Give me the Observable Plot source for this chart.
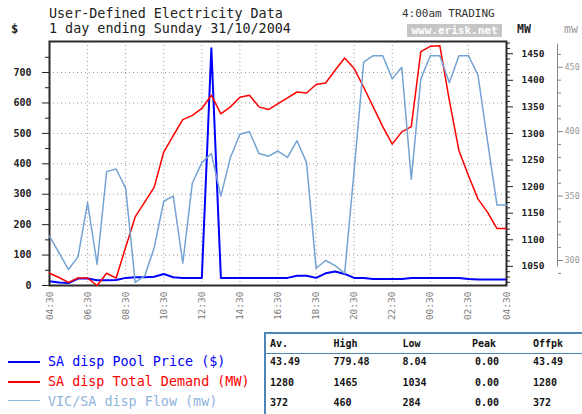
<!DOCTYPE html>
<html>
<head>
<meta charset="utf-8">
<script src="https://cdn.jsdelivr.net/npm/d3@7"></script>
<script src="https://cdn.jsdelivr.net/npm/@observablehq/plot@0.6"></script>
<style>
  html, body { margin: 0; padding: 0; background: #fff; }
  #wrap { position: relative; width: 582px; height: 414px; overflow: hidden; background: #fff; font-family: "DejaVu Sans Mono", monospace; }
  #wrap svg { position: absolute; left: 0; top: 0; }
  .t { position: absolute; white-space: pre; line-height: 1; }
  .lg { position: absolute; height: 0; border-top: 2px solid; }
</style>
</head>
<body>
<div id="wrap"></div>
<script>
// ---------- data ----------
const times = ["04:30","05:00","05:30","06:00","06:30","07:00","07:30","08:00","08:30","09:00","09:30","10:00",
  "10:30","11:00","11:30","12:00","12:30","13:00","13:30","14:00","14:30","15:00","15:30","16:00",
  "16:30","17:00","17:30","18:00","18:30","19:00","19:30","20:00","20:30","21:00","21:30","22:00",
  "22:30","23:00","23:30","00:00","00:30","01:00","01:30","02:00","02:30","03:00","03:30","04:00","04:30"];
const poolPrice = [14, 10, 8, 23, 23, 17, 17, 18, 25, 27, 27, 29,
  38, 27, 25, 25, 25, 779.48, 25, 25, 25, 25, 25, 25,
  25, 25, 32, 32, 25, 40, 46, 38, 25, 25, 21, 21,
  21, 21, 25, 25, 25, 25, 25, 25, 21, 20, 20, 20, 20];
const totalDemand = [1037, 1029, 1020, 1028, 1028, 1014, 1037, 1028, 1086, 1143, 1171, 1199,
  1265, 1296, 1326, 1334, 1347, 1372, 1337, 1350, 1368, 1372, 1350, 1345,
  1356, 1367, 1378, 1376, 1392, 1395, 1419, 1442, 1422, 1387, 1350, 1313,
  1280, 1303, 1313, 1454, 1464, 1465, 1362, 1268, 1221, 1177, 1152, 1121, 1121];
const flow = [319, 306, 293, 303, 345, 297, 369, 371, 356, 283, 288, 310,
  346, 350, 298, 360, 376, 383, 350, 380, 398, 400, 383, 381,
  385, 380, 393, 376, 294, 300, 296, 290, 370, 454, 459, 459,
  441, 450, 363, 441, 459, 459, 438, 459, 459, 444, 393, 343, 343];
const xTickLabels = ["04:30","06:30","08:30","10:30","12:30","14:30","16:30","18:30","20:30","22:30","00:30","02:30","04:30"];
const priceTicks = [0, 100, 200, 300, 400, 500, 600, 700];
const priceMinorTicks = [50, 150, 250, 350, 450, 550, 650, 750];
const mwTicks = [1050, 1100, 1150, 1200, 1250, 1300, 1350, 1400, 1450];
const flowTicks = [300, 350, 400, 450];
const statHeaders = ["Av.", "High", "Low", "Peak", "Offpk"];
const statRows = [
  ["43.49", "779.48", "8.04", "0.00", "43.49"],
  ["1280", "1465", "1034", "0.00", "1280"],
  ["372", "460", "284", "0.00", "372"]
];
const seriesNames = ["SA disp Pool Price ($)", "SA disp Total Demand (MW)", "VIC/SA disp Flow (mw)"];

// ---------- helpers ----------
const day0 = Date.UTC(2004, 9, 30);
function toDate(label, i) {
  const [h, m] = label.split(":").map(Number);
  let t = day0 + (h * 60 + m) * 60000;
  if (i > 0 && (h < 4 || (h === 4 && m <= 30))) t += 86400000;
  return new Date(t);
}
const dates = times.map((t, i) => toDate(t, i));
const tickDates = xTickLabels.map((t, i) => toDate(t, i));
const rows = dates.map((d, i) => ({date: d, price: poolPrice[i], demand: totalDemand[i], flow: flow[i]}));
const xDomain = [dates[0], dates[dates.length - 1]];
const range = (a, b, s) => d3.range(a, b + 0.001, s);
const mwMinor = range(1020, 1470, 10).filter(v => v % 50 !== 0);
const flowMinor = range(290, 460, 10).filter(v => v % 50 !== 0);
const plain = d => String(d);

const W = 582, H = 330;
const base = {width: W, height: H, marginTop: 41, marginRight: 76, marginBottom: 45, marginLeft: 49,
  style: {background: "transparent", fontFamily: "DejaVu Sans Mono", overflow: "visible"}};

const p1 = Plot.plot({
  ...base,
  x: {type: "utc", domain: xDomain},
  y: {domain: [0, 802]},
  marks: [
    Plot.gridX(tickDates, {stroke: "#9a9a9a", strokeOpacity: 1, strokeDasharray: "1,3"}),
    Plot.gridY(priceTicks.filter(v => v > 0), {stroke: "#9a9a9a", strokeOpacity: 1, strokeDasharray: "1,3"}),
    Plot.axisX(tickDates, {tickRotate: -90, tickSize: 0, tickPadding: 6, tickFormat: d3.utcFormat("%H:%M"),
      fill: "#7a7a7a", fontSize: 9.5, label: null}),
    Plot.axisY(priceTicks, {anchor: "left", tickSize: 7, tickPadding: 11, fontSize: 10, fontWeight: "bold",
      fill: "#222", stroke: "#222", tickFormat: plain, label: null}),
    Plot.axisY(priceMinorTicks, {anchor: "left", tickSize: 4, tickFormat: () => "", stroke: "#222", label: null}),
    Plot.line(rows, {x: "date", y: "price", stroke: "#0000ff", strokeWidth: 2}),
    Plot.frame({stroke: "#2a2a2a", strokeWidth: 2})
  ]
});

const p2 = Plot.plot({
  ...base,
  x: {type: "utc", domain: xDomain, axis: null},
  y: {domain: [1014, 1473]},
  marks: [
    Plot.axisY(mwTicks, {anchor: "right", tickSize: 6, tickPadding: 9, fontSize: 9.5, fontWeight: "bold",
      fill: "#222", stroke: "#222", tickFormat: plain, label: null}),
    Plot.axisY(mwMinor, {anchor: "right", tickSize: 3, tickFormat: () => "", stroke: "#222", label: null}),
    Plot.line(rows, {x: "date", y: "demand", stroke: "#ff0000", strokeWidth: 1.5})
  ]
});

const p3 = Plot.plot({
  ...base,
  marginRight: 25,
  x: {type: "utc", domain: xDomain, range: [49, 506], axis: null},
  y: {domain: [280.6, 470]},
  marks: [
    Plot.ruleX([xDomain[1]], {y1: () => 295, y2: () => 468, dx: 51, stroke: "#888", strokeWidth: 1}),
    Plot.axisY(flowTicks, {anchor: "right", tickSize: 5, tickPadding: 2, fontSize: 8.5,
      fill: "#999", stroke: "#888", tickFormat: plain, label: null}),
    Plot.axisY(flowMinor, {anchor: "right", tickSize: 3, tickFormat: () => "", stroke: "#888", label: null}),
    Plot.line(rows, {x: "date", y: "flow", stroke: "#74a3d4", strokeWidth: 1.5})
  ]
});

const wrap = document.getElementById("wrap");
[p1, p2, p3].forEach(p => wrap.appendChild(p));

function text(str, x, top, size, opts = {}) {
  const d = document.createElement("div");
  d.className = "t";
  d.textContent = str;
  d.style.left = x + "px";
  d.style.top = top + "px";
  d.style.fontSize = size + "px";
  Object.assign(d.style, opts);
  wrap.appendChild(d);
  return d;
}
// titles
text("User-Defined Electricity Data", 49, 6.5, 13.4, {color: "#222"});
text("1 day ending Sunday 31/10/2004", 49, 21.5, 13.4, {color: "#222"});
text("$", 11, 22.5, 12, {color: "#222", fontWeight: "bold"});
text("4:00am TRADING", 402, 8.2, 11, {color: "#333"});
text("www.erisk.net", 407, 24, 11, {color: "#fff", background: "#c6c6c6", width: "95px", height: "13px",
  lineHeight: "13px", textAlign: "center", fontWeight: "bold"});
text("MW", 517, 23.5, 11.5, {color: "#222", fontWeight: "bold"});
text("mw", 564, 23.5, 11.5, {color: "#999"});

// legend
const legColors = ["#0000ff", "#ff0000", "#8fb4dc"];
const legY = [361.5, 381.5, 401];
seriesNames.forEach((name, i) => {
  const l = document.createElement("div");
  l.className = "lg";
  l.style.left = "8px"; l.style.width = "32px";
  l.style.top = (legY[i] - 1) + "px";
  l.style.borderColor = legColors[i];
  if (i === 2) l.style.borderTopWidth = "1.5px";
  wrap.appendChild(l);
  text(name, 48, legY[i] - 6.5, 13.4, {color: legColors[i]});
});

// stats table
const tbl = document.createElement("div");
Object.assign(tbl.style, {position: "absolute", left: "264px", top: "332px", width: "330px", height: "90px",
  borderTop: "2px solid #4a86b8", borderLeft: "2px solid #4a86b8", boxSizing: "border-box"});
wrap.appendChild(tbl);
const hl = document.createElement("div");
Object.assign(hl.style, {position: "absolute", left: "265px", top: "352.5px", width: "330px", height: "0",
  borderTop: "1.5px solid #4a86b8"});
wrap.appendChild(hl);
const colX = [270, 333.5, 402.5, 472, 533];
statHeaders.forEach((h, j) => text(h, colX[j], 338.5, 10, {color: "#111", fontWeight: "bold"}));
const rowTop = [356.5, 378, 397.5];
statRows.forEach((r, i) => r.forEach((v, j) =>
  text(v, colX[j] + (j === 3 ? 3 : 0), rowTop[i], 10, {color: "#111", fontWeight: "bold"})));
</script>
</body>
</html>
